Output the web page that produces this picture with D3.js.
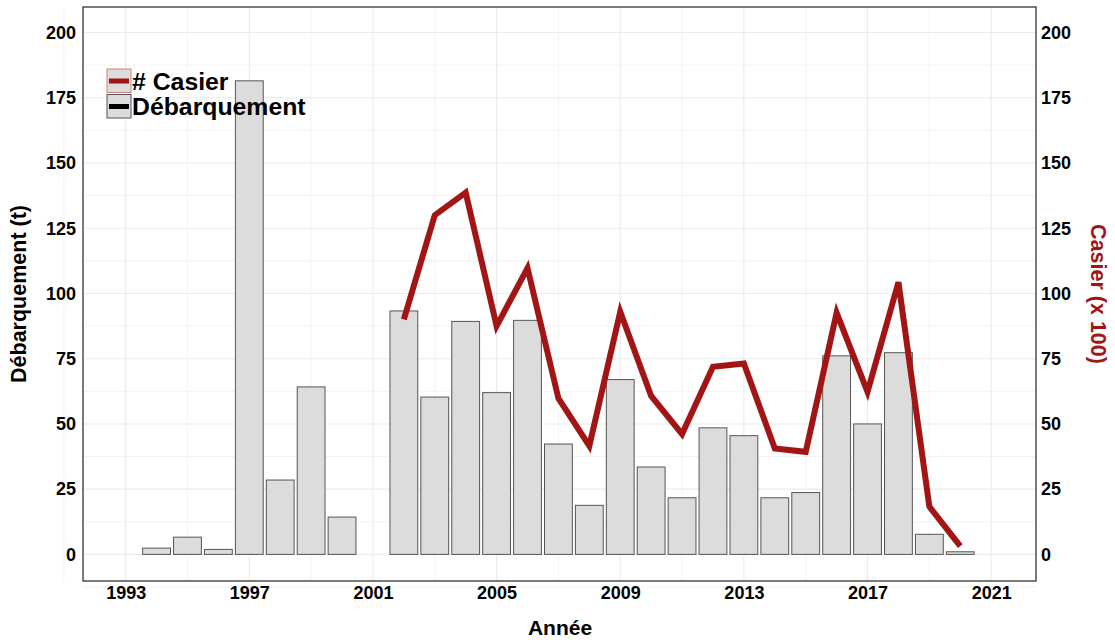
<!DOCTYPE html>
<html>
<head>
<meta charset="utf-8">
<script src="https://cdn.jsdelivr.net/npm/d3@7"></script>
<style>
  body { margin: 0; background: #fff; }
  text { font-family: "Liberation Sans", Arial, sans-serif; font-weight: bold; }
</style>
</head>
<body>
<div class="box"></div>
<script>
// données
const annees = [1994, 1995, 1996, 1997, 1998, 1999, 2000, 2002, 2003, 2004, 2005, 2006, 2007, 2008, 2009,
                2010, 2011, 2012, 2013, 2014, 2015, 2016, 2017, 2018, 2019, 2020];
const debarquement = [2.4, 6.6, 1.9, 181.5, 28.5, 64.2, 14.3, 93.3, 60.3, 89.3, 62.0, 89.7, 42.3, 18.8, 67.0,
                      33.5, 21.7, 48.5, 45.5, 21.7, 23.7, 76.1, 50.0, 77.3, 7.7, 1.0];
const anneesCasier = [2002, 2003, 2004, 2005, 2006, 2007, 2008, 2009, 2010, 2011, 2012, 2013, 2014, 2015,
                      2016, 2017, 2018, 2019, 2020];
const casier = [90.1, 130.0, 138.7, 87.5, 109.7, 59.8, 41.6, 93.0, 60.7, 46.1, 71.9, 73.2, 40.6, 39.3,
                92.6, 62.3, 104.3, 18.3, 3.2];
const ticksX = [1993, 1997, 2001, 2005, 2009, 2013, 2017, 2021];
const ticksY = [0, 25, 50, 75, 100, 125, 150, 175, 200];

const dims = {width: 1115, height: 642, left: 83, right: 1036, top: 7, bottom: 581};
const rouge = '#a31515';

const svg = d3.select('.box')
              .append('svg')
              .attr('width', dims.width)
              .attr('height', dims.height);

const x = d3.scaleLinear().domain([1991.62, 2022.45]).range([dims.left, dims.right]);
const y = d3.scaleLinear().domain([-10.2, 209.8]).range([dims.bottom, dims.top]);

// grille (majeure + mineure)
const grille = svg.append('g').attr('stroke', '#ebebeb').attr('stroke-width', 1);
const minY = d3.range(-12.5, 210, 12.5);
grille.selectAll('.gy').data(minY).enter().append('line')
      .attr('x1', dims.left).attr('x2', dims.right)
      .attr('y1', d => y(d)).attr('y2', d => y(d))
      .attr('stroke-width', d => d % 25 === 0 ? 1.1 : 0.6);
const minX = d3.range(1991, 2023, 2);
grille.selectAll('.gx').data(minX).enter().append('line')
      .attr('y1', dims.top).attr('y2', dims.bottom)
      .attr('x1', d => x(d)).attr('x2', d => x(d))
      .attr('stroke-width', d => (d - 1993) % 4 === 0 ? 1.1 : 0.6);

// barres
const bw = x(1990.9) - x(1990);
svg.append('g').selectAll('rect').data(annees).enter().append('rect')
   .attr('x', d => x(d) - bw / 2)
   .attr('width', bw)
   .attr('y', (d, i) => y(debarquement[i]))
   .attr('height', (d, i) => y(0) - y(debarquement[i]))
   .attr('fill', '#dcdcdc')
   .attr('stroke', '#555')
   .attr('stroke-width', 1);

// ligne casiers
const ligne = d3.line().x(d => x(d[0])).y(d => y(d[1]));
svg.append('path')
   .datum(anneesCasier.map((a, i) => [a, casier[i]]))
   .attr('d', ligne)
   .attr('fill', 'none')
   .attr('stroke', rouge)
   .attr('stroke-width', 6)
   .attr('stroke-linejoin', 'miter');

// cadre
svg.append('rect')
   .attr('x', dims.left).attr('y', dims.top)
   .attr('width', dims.right - dims.left).attr('height', dims.bottom - dims.top)
   .attr('fill', 'none').attr('stroke', '#333').attr('stroke-width', 1.3);

// axes (sans tirets)
const axeG = svg.append('g').attr('transform', `translate(${dims.left},0)`)
                .call(d3.axisLeft(y).tickValues(ticksY).tickSize(0).tickPadding(7));
const axeD = svg.append('g').attr('transform', `translate(${dims.right},0)`)
                .call(d3.axisRight(y).tickValues(ticksY).tickSize(0).tickPadding(5));
const axeB = svg.append('g').attr('transform', `translate(0,${dims.bottom})`)
                .call(d3.axisBottom(x).tickValues(ticksX).tickFormat(d3.format('d')).tickSize(0).tickPadding(5));
[axeG, axeD, axeB].forEach(a => {
    a.select('.domain').remove();
    a.selectAll('.tick text').attr('font-size', 18).attr('fill', '#000')
     .style('font-family', '"Liberation Sans", Arial, sans-serif').style('font-weight', 'bold');
});

// titres
svg.append('text').attr('x', 560).attr('y', 635).attr('text-anchor', 'middle')
   .attr('font-size', 21).text('Année');
svg.append('text').attr('transform', `translate(26,${(dims.top + dims.bottom) / 2}) rotate(-90)`)
   .attr('text-anchor', 'middle').attr('font-size', 21.5).text('Débarquement (t)');
svg.append('text').attr('transform', `translate(1091,${(dims.top + dims.bottom) / 2}) rotate(90)`)
   .attr('text-anchor', 'middle').attr('font-size', 21.5).attr('fill', rouge).text('Casier (x 100)');

// légende
const legende = [
    {nom: '# Casier', couleur: rouge, bord: '#d08080', y: 69},
    {nom: 'Débarquement', couleur: '#000', bord: '#555', y: 94.5}
];
const leg = svg.append('g').selectAll('g').data(legende).enter().append('g');
leg.append('rect')
   .attr('x', 107).attr('y', d => d.y).attr('width', 24).attr('height', 23.5)
   .attr('fill', '#dcdcdc').attr('stroke', d => d.bord).attr('stroke-width', 1);
leg.append('line')
   .attr('x1', 109).attr('x2', 129).attr('y1', d => d.y + 12).attr('y2', d => d.y + 12)
   .attr('stroke', d => d.couleur).attr('stroke-width', 5);
leg.append('text')
   .attr('x', 132).attr('y', d => d.y + 20.5)
   .attr('font-size', 24.8).text(d => d.nom);
</script>
</body>
</html>
